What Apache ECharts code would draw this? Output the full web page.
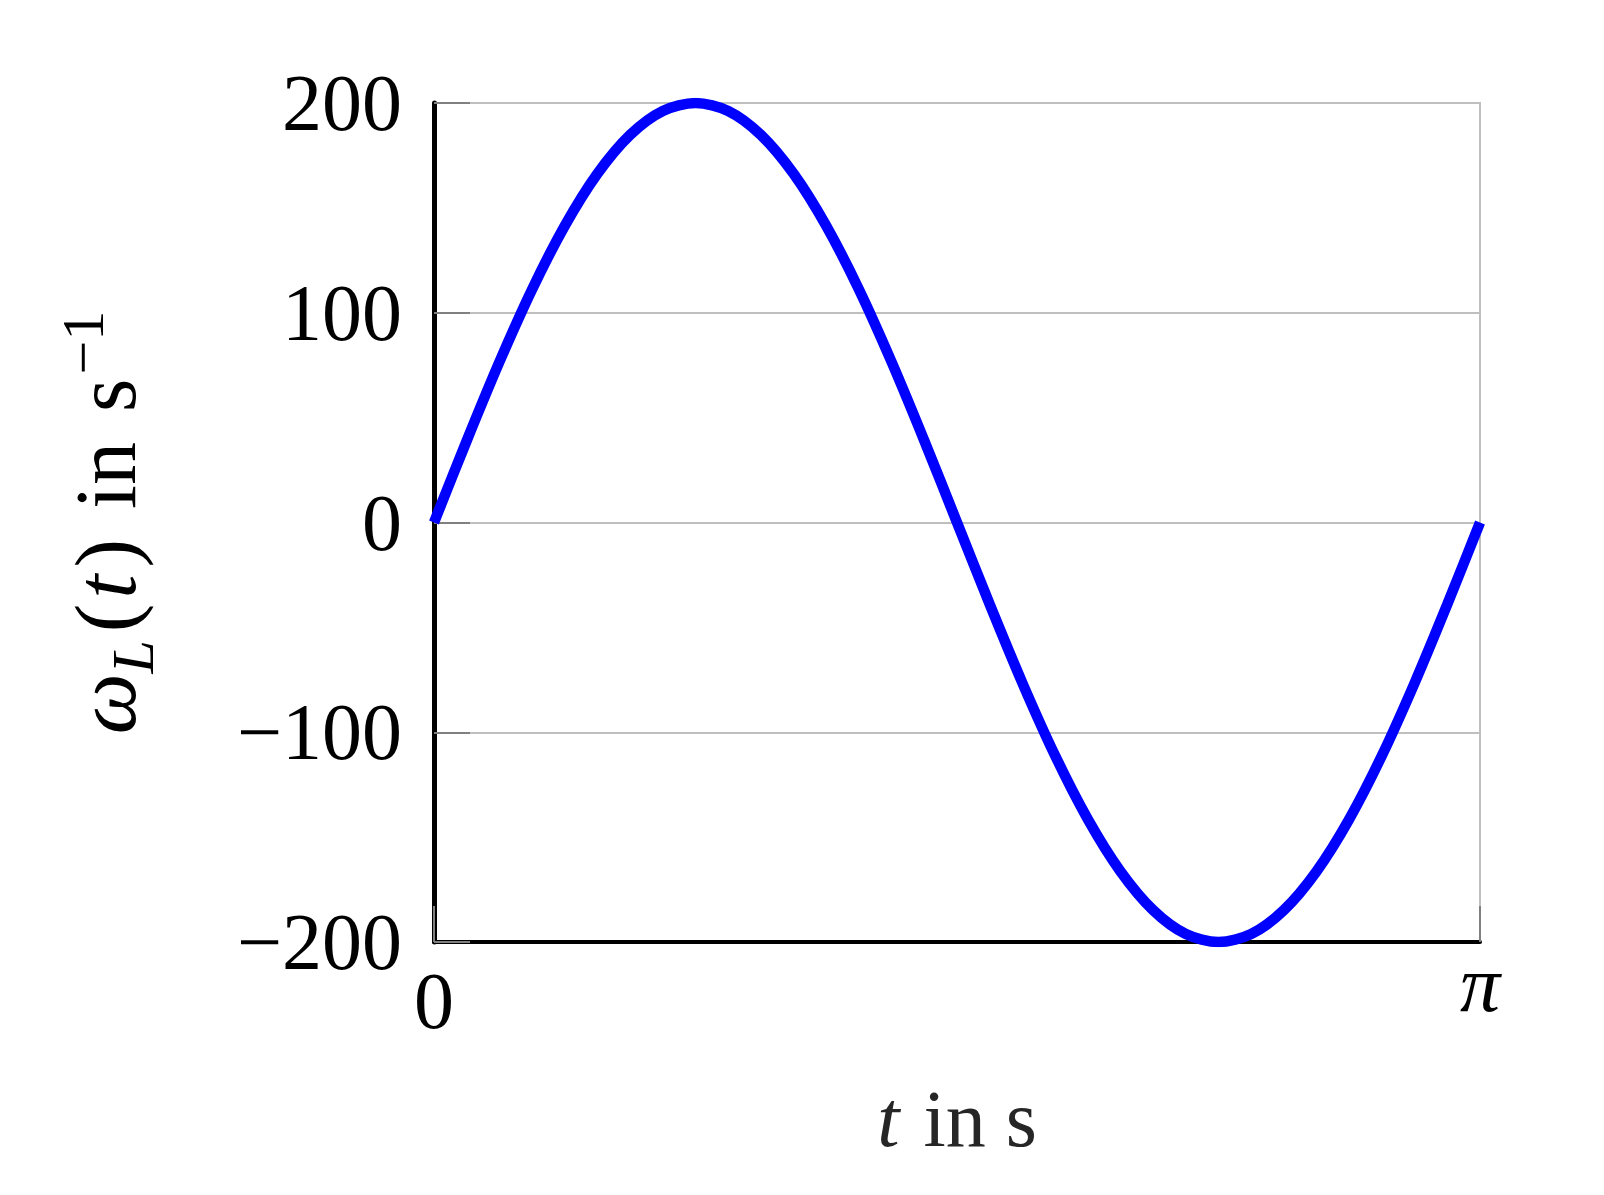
<!DOCTYPE html>
<html>
<head>
<meta charset="utf-8">
<script src="https://cdn.jsdelivr.net/npm/echarts@6/dist/echarts.min.js"></script>
<style>
  html, body { margin: 0; padding: 0; background: #fff; }
  #chart { width: 1604px; height: 1195px; }
</style>
</head>
<body>
<div id="chart"></div>
<script>
// t in s, sampled along the curve
const tValues = [0, 0.0982, 0.1963, 0.2945, 0.3927, 0.4909, 0.5890, 0.6872, 0.7854, 0.8836,
  0.9817, 1.0799, 1.1781, 1.2763, 1.3744, 1.4726, 1.5708, 1.6690, 1.7671, 1.8653,
  1.9635, 2.0617, 2.1598, 2.2580, 2.3562, 2.4544, 2.5525, 2.6507, 2.7489, 2.8471,
  2.9452, 3.0434, 3.1416];
// omega_L(t) in 1/s
const omegaValues = [0, 39, 76.5, 111.1, 141.4, 166.3, 184.8, 196.2, 200, 196.2,
  184.8, 166.3, 141.4, 111.1, 76.5, 39, 0, -39, -76.5, -111.1,
  -141.4, -166.3, -184.8, -196.2, -200, -196.2, -184.8, -166.3, -141.4, -111.1,
  -76.5, -39, 0];
const yTicks = [-200, -100, 0, 100, 200];
const xTicks = [0, Math.PI];

const serif = '"Liberation Serif", "DejaVu Serif", serif';

const chart = echarts.init(document.getElementById('chart'));

// rich styles for the rotated y title
const yName = { fontFamily: serif, fontSize: 86, lineHeight: 110, verticalAlign: 'middle', color: '#000' };

chart.setOption({
  backgroundColor: '#fff',
  animation: false,
  grid: {
    left: 434,
    right: 124,
    top: 103,
    bottom: 253,
    show: true,
    z: 0,
    borderColor: '#bfbfbf',
    borderWidth: 2,
    backgroundColor: 'transparent'
  },
  xAxis: {
    type: 'value',
    z: 5,
    min: 0,
    max: Math.PI,
    name: '{it|t}{n| in s}',
    nameLocation: 'middle',
    nameGap: 143,
    nameTextStyle: {
      rich: {
        it: { fontFamily: serif, fontStyle: 'italic', fontSize: 80, color: '#262626', padding: [0, 4, 0, 0] },
        n: { fontFamily: serif, fontSize: 80, color: '#262626' }
      }
    },
    axisLine: { onZero: false, lineStyle: { color: '#000', width: 4 } },
    axisTick: {
      inside: true,
      length: 36,
      customValues: xTicks,
      lineStyle: { color: '#808080', width: 2 }
    },
    axisLabel: {
      customValues: xTicks,
      margin: 15,
      formatter: v => (v === 0 ? '{z|0}' : '{pi|π}'),
      rich: {
        z: { fontFamily: serif, fontSize: 80, lineHeight: 100, color: '#000' },
        pi: { fontFamily: serif, fontStyle: 'italic', fontSize: 80, lineHeight: 66, color: '#000' }
      }
    },
    splitLine: { show: false }
  },
  yAxis: {
    type: 'value',
    z: 5,
    min: -200,
    max: 200,
    interval: 100,
    name: '{w|ω}{sub|L}{p|(}{t|t}{p|)}{g| }{p|in}{g| }{s|s}{sup|−1}',
    nameLocation: 'middle',
    nameRotate: 90,
    nameGap: 267,
    nameTextStyle: {
      rich: {
        w: Object.assign({}, yName, { fontStyle: 'italic' }),
        t: Object.assign({}, yName, { fontStyle: 'italic', padding: [0, 7, 0, 5] }),
        p: yName,
        s: Object.assign({}, yName, { padding: [0, 4, 0, 0] }),
        g: Object.assign({}, yName, { width: 30 }),
        sub: { fontFamily: serif, fontStyle: 'italic', fontSize: 60, lineHeight: 110, verticalAlign: 'bottom', color: '#000', padding: [0, 8, 0, 0] },
        sup: { fontFamily: serif, fontSize: 60, lineHeight: 110, verticalAlign: 'top', color: '#000' }
      }
    },
    axisLine: { show: true, onZero: false, lineStyle: { color: '#000', width: 5 } },
    axisTick: {
      inside: true,
      length: 36,
      lineStyle: { color: '#808080', width: 2 }
    },
    axisLabel: {
      margin: 32,
      fontFamily: serif,
      fontSize: 80,
      color: '#000',
      verticalAlign: 'top',
      lineHeight: 12,
      formatter: v => (yTicks.includes(v) ? String(v).replace('-', '−') : '')
    },
    splitLine: { lineStyle: { color: '#bfbfbf', width: 2 } }
  },
  series: [{
    type: 'line',
    z: 6,
    data: tValues.map((t, i) => [t, omegaValues[i]]),
    smooth: 0.3,
    showSymbol: false,
    clip: true,
    lineStyle: { color: '#0000ff', width: 10.5 },
    itemStyle: { color: '#0000ff' }
  }]
});
</script>
</body>
</html>
